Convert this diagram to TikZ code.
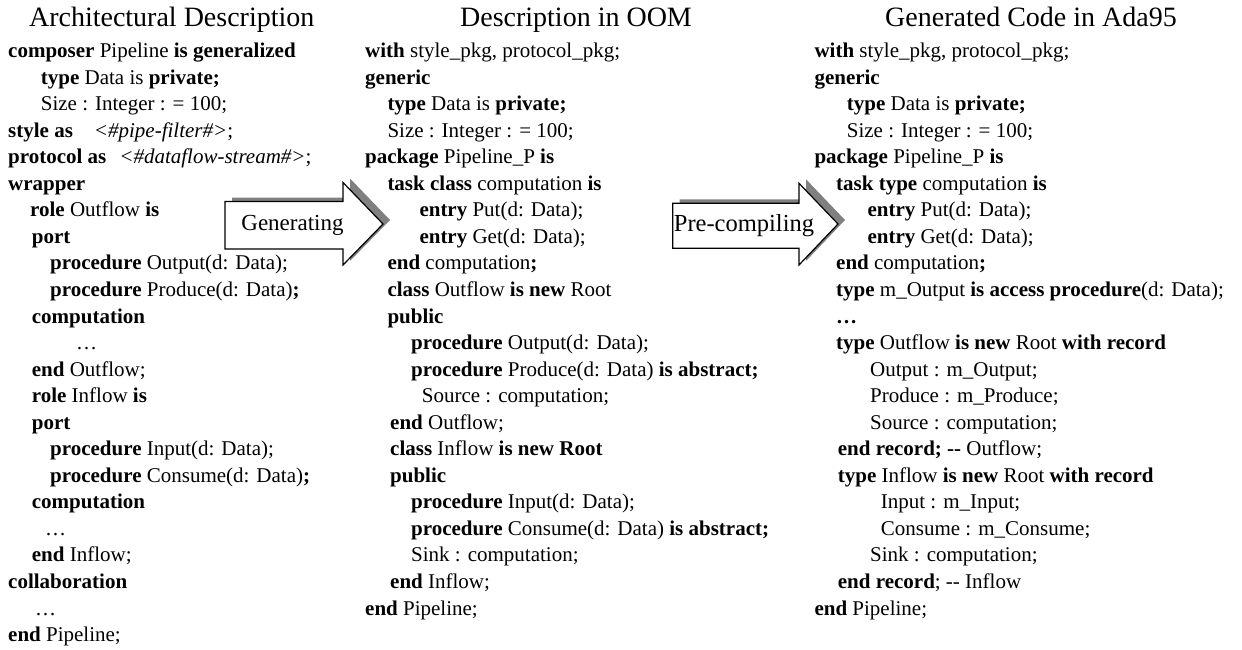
\documentclass[tikz,border=0pt]{standalone}
\usepackage{fontspec}
\setmainfont{Liberation Serif}
\newcommand{\yy}[1]{57.5+26.55*#1}
\begin{document}
\begin{tikzpicture}[x=1pt,y=-1pt,
  ln/.style={anchor=base west,inner sep=0pt,font=\fontsize{21}{25}\selectfont},
  ttl/.style={anchor=base,inner sep=0pt,font=\fontsize{28}{32}\selectfont},
  lbl/.style={anchor=base,inner sep=0pt,font=\fontsize{23}{27}\selectfont},
  arrowbody/.style={draw=black,line width=1.2pt,fill=white,line join=miter},
  arrowshadow/.style={fill=black!50,draw=none}]
\useasboundingbox (0,0) rectangle (1242,650);

% titles
\node[ttl] (t1) at (171.7,27) {Architectural Description};
\node[ttl] (t2) at (576,27) {Description in OOM};
\node[ttl] (t3) at (1031,27) {Generated Code in Ada95};

% column 1
\node[ln] (a0) at (8,{\yy{0}}) {\textbf{composer} Pipeline \textbf{is generalized}};
\node[ln] (a1) at (40.7,{\yy{1}}) {\textbf{type} Data is \textbf{private;}};
\node[ln] (a2) at (40.7,{\yy{2}}) {Size : Integer : = 100;};
\node[ln] (a3) at (8,{\yy{3}}) {\textbf{style as}\hspace{21pt}\textit{<\#pipe-filter\#>};};
\node[ln] (a4) at (8,{\yy{4}}) {\textbf{protocol as}\hspace{13pt}\textit{<\#dataflow-stream\#>};};
\node[ln] (a5) at (8,{\yy{5}}) {\textbf{wrapper}};
\node[ln] (a6) at (30,{\yy{6}}) {\textbf{role} Outflow \textbf{is}};
\node[ln] (a7) at (31.7,{\yy{7}}) {\textbf{port}};
\node[ln] (a8) at (50,{\yy{8}}) {\textbf{procedure} Output(d: Data);};
\node[ln] (a9) at (50,{\yy{9}}) {\textbf{procedure} Produce(d: Data)\textbf{;}};
\node[ln] (a10) at (31.7,{\yy{10}}) {\textbf{computation}};
\node[ln] (a11) at (76,{\yy{11}}) {…};
\node[ln] (a12) at (31.7,{\yy{12}}) {\textbf{end} Outflow;};
\node[ln] (a13) at (31.7,{\yy{13}}) {\textbf{role} Inflow \textbf{is}};
\node[ln] (a14) at (31.7,{\yy{14}}) {\textbf{port}};
\node[ln] (a15) at (50,{\yy{15}}) {\textbf{procedure} Input(d: Data);};
\node[ln] (a16) at (50,{\yy{16}}) {\textbf{procedure} Consume(d: Data)\textbf{;}};
\node[ln] (a17) at (31.7,{\yy{17}}) {\textbf{computation}};
\node[ln] (a18) at (45,{\yy{18}}) {…};
\node[ln] (a19) at (31.7,{\yy{19}}) {\textbf{end} Inflow;};
\node[ln] (a20) at (8,{\yy{20}}) {\textbf{collaboration}};
\node[ln] (a21) at (35,{\yy{21}}) {…};
\node[ln] (a22) at (8,{\yy{22}}) {\textbf{end} Pipeline;};

% column 2
\node[ln] (b0) at (365,{\yy{0}}) {\textbf{with} style\_pkg, protocol\_pkg;};
\node[ln] (b1) at (365,{\yy{1}}) {\textbf{generic}};
\node[ln] (b2) at (387.3,{\yy{2}}) {\textbf{type} Data is \textbf{private;}};
\node[ln] (b3) at (387.3,{\yy{3}}) {Size : Integer : = 100;};
\node[ln] (b4) at (365,{\yy{4}}) {\textbf{package} Pipeline\_P \textbf{is}};
\node[ln] (b5) at (387.3,{\yy{5}}) {\textbf{task class} computation \textbf{is}};
\node[ln] (b6) at (419.3,{\yy{6}}) {\textbf{entry} Put(d: Data);};
\node[ln] (b7) at (419.3,{\yy{7}}) {\textbf{entry} Get(d: Data);};
\node[ln] (b8) at (387.3,{\yy{8}}) {\textbf{end} computation\textbf{;}};
\node[ln] (b9) at (387.3,{\yy{9}}) {\textbf{class} Outflow \textbf{is new} Root};
\node[ln] (b10) at (387.3,{\yy{10}}) {\textbf{public}};
\node[ln] (b11) at (411,{\yy{11}}) {\textbf{procedure} Output(d: Data);};
\node[ln] (b12) at (411,{\yy{12}}) {\textbf{procedure} Produce(d: Data) \textbf{is abstract;}};
\node[ln] (b13) at (421.7,{\yy{13}}) {Source : computation;};
\node[ln] (b14) at (390,{\yy{14}}) {\textbf{end} Outflow;};
\node[ln] (b15) at (390,{\yy{15}}) {\textbf{class} Inflow \textbf{is new Root}};
\node[ln] (b16) at (390,{\yy{16}}) {\textbf{public}};
\node[ln] (b17) at (411,{\yy{17}}) {\textbf{procedure} Input(d: Data);};
\node[ln] (b18) at (411,{\yy{18}}) {\textbf{procedure} Consume(d: Data) \textbf{is abstract;}};
\node[ln] (b19) at (411,{\yy{19}}) {Sink : computation;};
\node[ln] (b20) at (390,{\yy{20}}) {\textbf{end} Inflow;};
\node[ln] (b21) at (365,{\yy{21}}) {\textbf{end} Pipeline;};

% column 3
\node[ln] (c0) at (814.3,{\yy{0}}) {\textbf{with} style\_pkg, protocol\_pkg;};
\node[ln] (c1) at (814.3,{\yy{1}}) {\textbf{generic}};
\node[ln] (c2) at (846.7,{\yy{2}}) {\textbf{type} Data is \textbf{private;}};
\node[ln] (c3) at (846.7,{\yy{3}}) {Size : Integer : = 100;};
\node[ln] (c4) at (814.3,{\yy{4}}) {\textbf{package} Pipeline\_P \textbf{is}};
\node[ln] (c5) at (836,{\yy{5}}) {\textbf{task type} computation \textbf{is}};
\node[ln] (c6) at (867.3,{\yy{6}}) {\textbf{entry} Put(d: Data);};
\node[ln] (c7) at (867.3,{\yy{7}}) {\textbf{entry} Get(d: Data);};
\node[ln] (c8) at (836,{\yy{8}}) {\textbf{end} computation\textbf{;}};
\node[ln] (c9) at (836,{\yy{9}}) {\textbf{type} m\_Output \textbf{is access procedure}(d: Data);};
\node[ln] (c10) at (836,{\yy{10}}) {\textbf{…}};
\node[ln] (c11) at (836,{\yy{11}}) {\textbf{type} Outflow \textbf{is new} Root \textbf{with record}};
\node[ln] (c12) at (870,{\yy{12}}) {Output : m\_Output;};
\node[ln] (c13) at (870,{\yy{13}}) {Produce : m\_Produce;};
\node[ln] (c14) at (870,{\yy{14}}) {Source : computation;};
\node[ln] (c15) at (837.7,{\yy{15}}) {\textbf{end record; -{}-} Outflow;};
\node[ln] (c16) at (837.7,{\yy{16}}) {\textbf{type} Inflow \textbf{is new} Root \textbf{with record}};
\node[ln] (c17) at (880.7,{\yy{17}}) {Input : m\_Input;};
\node[ln] (c18) at (880.7,{\yy{18}}) {Consume : m\_Consume;};
\node[ln] (c19) at (870,{\yy{19}}) {Sink : computation;};
\node[ln] (c20) at (837.7,{\yy{20}}) {\textbf{end record}; -{}- Inflow};
\node[ln] (c21) at (814.3,{\yy{21}}) {\textbf{end} Pipeline;};

% arrow 1 (Generating)
\fill[arrowshadow,shift={(7,-4)}] (225,201.5) -- (343,201.5) -- (343,182.5) -- (383,224) -- (343,265) -- (343,249) -- (225,249) -- cycle;
\path[arrowbody] (225,201.5) -- (343,201.5) -- (343,182.5) -- (383,224) -- (343,265) -- (343,249) -- (225,249) -- cycle;
\node[lbl] (gen) at (292.5,230) {Generating};

% arrow 2 (Pre-compiling)
\fill[arrowshadow,shift={(7,-4)}] (672.7,203.3) -- (799,203.3) -- (799,183.3) -- (838,224) -- (799,265) -- (799,248.3) -- (672.7,248.3) -- cycle;
\path[arrowbody] (672.7,203.3) -- (799,203.3) -- (799,183.3) -- (838,224) -- (799,265) -- (799,248.3) -- (672.7,248.3) -- cycle;
\node[lbl,font=\fontsize{24.5}{28}\selectfont] (pre) at (744,231.5) {Pre-compiling};
\end{tikzpicture}
\end{document}
